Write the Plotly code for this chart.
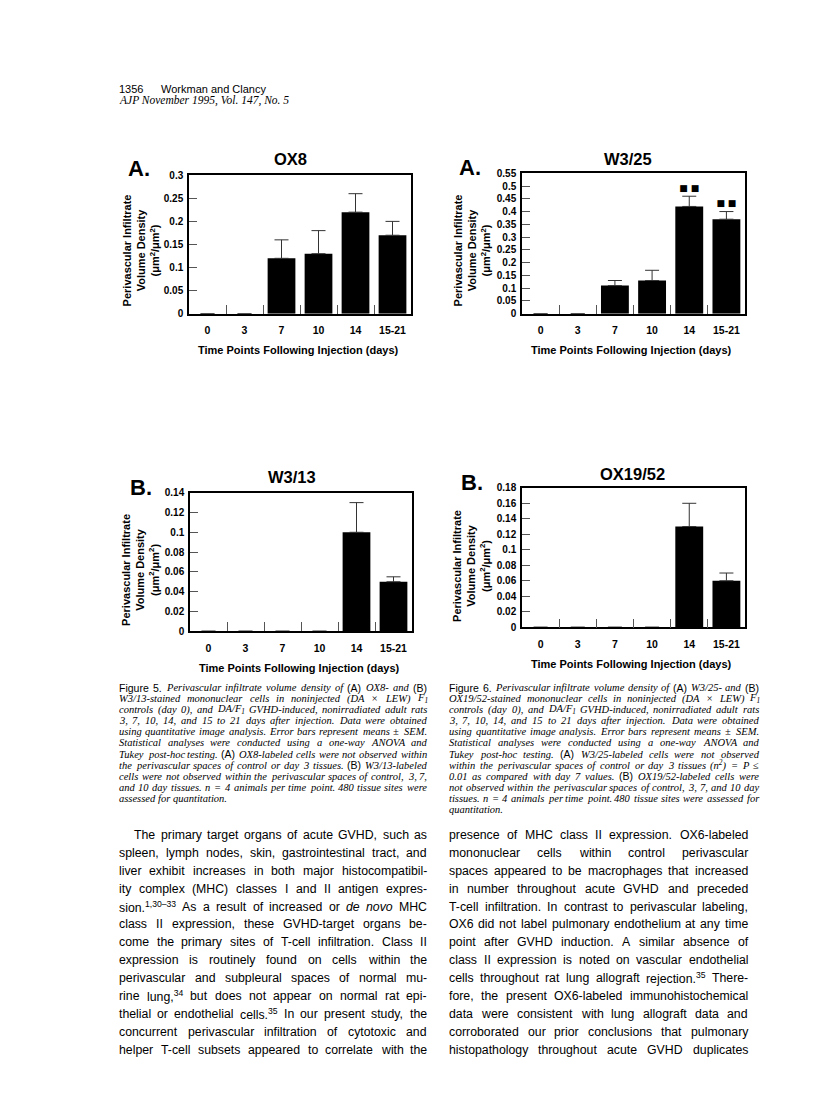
import re
import plotly.graph_objects as go

# the page body keeps an 8px margin, so the figure is 16px smaller than the window
PAGE_W, PAGE_H, PAD = 816, 1119, 8
W, H = PAGE_W - 2 * PAD, PAGE_H - 2 * PAD

# data
days = ["0", "3", "7", "10", "14", "15-21"]

ox8_mean = [0, 0, 0.12, 0.13, 0.22, 0.17]
ox8_sem = [0, 0, 0.04, 0.05, 0.04, 0.03]

w325_mean = [0, 0, 0.11, 0.13, 0.42, 0.37]
w325_sem = [0, 0, 0.02, 0.04, 0.04, 0.03]
w325_sig = [False, False, False, False, True, True]

w313_mean = [0, 0, 0, 0, 0.10, 0.05]
w313_sem = [0, 0, 0, 0, 0.03, 0.005]

ox1952_mean = [0, 0, 0, 0, 0.13, 0.06]
ox1952_sem = [0, 0, 0, 0, 0.03, 0.01]

y_title = "Perivascular Infiltrate<br>Volume Density<br>(\u03bcm<sup>2</sup>/\u03bcm<sup>2</sup>)"
x_title = "Time Points Following Injection (days)"


def fx(x):
    return (x - PAD) / W


def fy(y):
    return 1 - (y - PAD) / H


# mean, sem, name, letter, ymax, dtick, box (left, right, top, bottom) in page px,
# title pos, letter pos, y-title pos
panels = [
    (ox8_mean, ox8_sem, "OX8", "A.", 0.3, 0.05, (189, 411, 171, 311), (290, 155), (139, 164), (141, 247)),
    (w325_mean, w325_sem, "W3/25", "A.", 0.55, 0.05, (522, 745, 169, 311), (628, 155), (470, 163), (472, 247)),
    (w313_mean, w313_sem, "W3/13", "B.", 0.14, 0.02, (190, 412, 492, 632), (292, 476), (141, 487), (141, 570)),
    (ox1952_mean, ox1952_sem, "OX19/52", "B.", 0.18, 0.02, (522, 745, 487, 628), (632, 473), (472, 482), (472, 566)),
]

bold = dict(family="Liberation Sans", color="black", weight="bold")

fig = go.Figure()
annotations = []
layout = {}

for i, (mean, sem, name, letter, ymax, dtick, box, tpos, lpos, ypos) in enumerate(panels, start=1):
    left, right, top, bottom = box
    fig.add_trace(go.Bar(
        x=days, y=mean,
        marker=dict(color="black", line=dict(width=0)),
        error_y=dict(type="data", array=[s if m > 0 else None for m, s in zip(mean, sem)],
                     arrayminus=[0] * len(sem), symmetric=False,
                     color="#333333", thickness=1, width=7),
        xaxis=f"x{i}", yaxis=f"y{i}", showlegend=False,
    ))
    layout[f"xaxis{i}"] = dict(
        domain=[fx(left), fx(right)], anchor=f"y{i}", type="category",
        showline=True, mirror=True, linecolor="black", linewidth=1.5,
        ticks="inside", tickson="boundaries", ticklen=9, tickwidth=1, tickcolor="#555555",
        tickfont=dict(size=10.5, **bold), ticklabelstandoff=6, showgrid=False,
    )
    layout[f"yaxis{i}"] = dict(
        domain=[fy(bottom), fy(top)], anchor=f"x{i}", range=[0, ymax], dtick=dtick,
        showline=True, mirror=True, linecolor="black", linewidth=1.5,
        ticks="inside", ticklen=8, tickwidth=1, tickcolor="#555555",
        tickfont=dict(size=10, **bold), ticklabelstandoff=2, showgrid=False, zeroline=False,
    )
    annotations += [
        dict(text=name, x=fx(tpos[0]), y=fy(tpos[1]), font=dict(size=16.5, **bold)),
        dict(text=letter, x=fx(lpos[0]), y=fy(lpos[1]), font=dict(size=22, **bold)),
        dict(text=y_title, x=fx(ypos[0]), y=fy(ypos[1]), textangle=-90, font=dict(size=11, **bold)),
        dict(text=x_title, x=fx((left + right) / 2 - 2), y=fy(bottom + 37), font=dict(size=11, **bold)),
    ]

# significance markers over W3/25 (p <= 0.01 vs day 7)
sig_x = [d for d, f in zip(days, w325_sig) if f]
sig_y = [m + s + 0.03 for m, s, f in zip(w325_mean, w325_sem, w325_sig) if f]
fig.add_trace(go.Scatter(
    x=sig_x, y=sig_y, mode="text", text=["\u25a0 \u25a0"] * len(sig_x),
    textfont=dict(family="DejaVu Sans", size=9, color="black"),
    xaxis="x2", yaxis="y2", showlegend=False,
))

# page text
header = [
    ("1356", 117, 84, "Liberation Sans", "normal", 11),
    ("Workman and Clancy", 159, 84, "Liberation Sans", "normal", 11),
    ("AJP November 1995, Vol. 147, No. 5", 117, 95, "Liberation Serif", "italic", 11.5),
]
for txt, x, y, fam, style, size in header:
    annotations.append(dict(text=txt, x=fx(x), y=fy(y), xanchor="left",
                            font=dict(family=fam, size=size, color="black", style=style)))

cap5 = [
    "Figure 5. Perivascular infiltrate volume density of (A) OX8- and (B)",
    "W3/13-stained mononuclear cells in noninjected (DA \u00d7 LEW) F<sub>1</sub>",
    "controls (day 0), and DA/F<sub>1</sub> GVHD-induced, nonirradiated adult rats",
    "3, 7, 10, 14, and 15 to 21 days after injection. Data were obtained",
    "using quantitative image analysis. Error bars represent means \u00b1 SEM.",
    "Statistical analyses were conducted using a one-way ANOVA and",
    "Tukey post-hoc testing. (A) OX8-labeled cells were not observed within",
    "the perivascular spaces of control or day 3 tissues. (B) W3/13-labeled",
    "cells were not observed within the perivascular spaces of control, 3, 7,",
    "and 10 day tissues. n = 4 animals per time point. 480 tissue sites were",
    "assessed for quantitation.",
]
cap6 = [
    "Figure 6. Perivascular infiltrate volume density of (A) W3/25- and (B)",
    "OX19/52-stained mononuclear cells in noninjected (DA \u00d7 LEW) F<sub>1</sub>",
    "controls (day 0), and DA/F<sub>1</sub> GVHD-induced, nonirradiated adult rats",
    "3, 7, 10, 14, and 15 to 21 days after injection. Data were obtained",
    "using quantitative image analysis. Error bars represent means \u00b1 SEM.",
    "Statistical analyses were conducted using a one-way ANOVA and",
    "Tukey post-hoc testing. (A) W3/25-labeled cells were not observed",
    "within the perivascular spaces of control or day 3 tissues (n<sup>2</sup>) = P \u2264",
    "0.01 as compared with day 7 values. (B) OX19/52-labeled cells were",
    "not observed within the perivascular spaces of control, 3, 7, and 10 day",
    "tissues. n = 4 animals per time point. 480 tissue sites were assessed for",
    "quantitation.",
]

body_left = [
    "The primary target organs of acute GVHD, such as",
    "spleen, lymph nodes, skin, gastrointestinal tract, and",
    "liver exhibit increases in both major histocompatibil-",
    "ity complex (MHC) classes I and II antigen expres-",
    "sion.<sup>1,30\u201333</sup> As a result of increased or <i>de</i> <i>novo</i> MHC",
    "class II expression, these GVHD-target organs be-",
    "come the primary sites of T-cell infiltration. Class II",
    "expression is routinely found on cells within the",
    "perivascular and subpleural spaces of normal mu-",
    "rine lung,<sup>34</sup> but does not appear on normal rat epi-",
    "thelial or endothelial cells.<sup>35</sup> In our present study, the",
    "concurrent perivascular infiltration of cytotoxic and",
    "helper T-cell subsets appeared to correlate with the",
]
body_right = [
    "presence of MHC class II expression. OX6-labeled",
    "mononuclear cells within control perivascular",
    "spaces appeared to be macrophages that increased",
    "in number throughout acute GVHD and preceded",
    "T-cell infiltration. In contrast to perivascular labeling,",
    "OX6 did not label pulmonary endothelium at any time",
    "point after GVHD induction. A similar absence of",
    "class II expression is noted on vascular endothelial",
    "cells throughout rat lung allograft rejection.<sup>35</sup> There-",
    "fore, the present OX6-labeled immunohistochemical",
    "data were consistent with lung allograft data and",
    "corroborated our prior conclusions that pulmonary",
    "histopathology throughout acute GVHD duplicates",
]


def width_table(groups):
    table = {}
    for chars, w in groups:
        for c in chars:
            table[c] = w
    return table


# advance widths (1/1000 em): Liberation Sans (= Arial) and Liberation Serif Italic (= Times Italic)
SANS_ADV = width_table([
    ("ijl", 222), (" !,./:;I[]ft", 278), ("r-()", 333), ("Jcksvxyz", 500),
    ("abdeghnopqu0123456789L\u2013", 556), ("FTZ", 611), ("ABEKPSVXY", 667),
    ("CDHNRUw", 722), ("GOQ", 778), ("mM", 833), ("W", 944)])
SERIF_I_ADV = width_table([
    (" ,.", 250), ("fijlt/", 278), ("I-():;", 333), ("rsz", 389), ("ceJkvxy", 444),
    ("abdghnopqu0123456789S", 500), ("\u2264", 549), ("LTYZ", 556),
    ("ABEFPRVX", 611), ("CKNw", 667), ("=\u00d7\u00b1", 675), ("DGHOQUm", 722), ("MW", 833)])

SANS_TOKENS = {"Figure", "5.", "6.", "(A)", "(B)"}


def text_width(s, size, table):
    total, scale = 0, 1.0
    for part in re.split(r"(</?su[pb]>|</?i>)", s):
        if part in ("<sup>", "<sub>"):
            scale = 0.7
        elif part in ("</sup>", "</sub>"):
            scale = 1.0
        elif part.startswith("<"):
            continue
        else:
            total += sum(table.get(c, 500) for c in part) * scale
    return total * size / 1000


def set_line(line, start, end, y, size, kind, justify):
    words = line.split(" ")
    specs = []
    for w in words:
        if kind == "body":
            specs.append((w, "Liberation Sans", "normal", SANS_ADV))
        elif w in SANS_TOKENS:
            specs.append((w, "Liberation Sans", "normal", SANS_ADV))
        else:
            specs.append((w, "Liberation Serif", "italic", SERIF_I_ADV))
    widths = [text_width(w, size, t) for w, _, _, t in specs]
    space = (0.278 if kind == "body" else 0.25) * size
    gap = space
    if justify and len(words) > 1:
        gap = max((end - start - sum(widths)) / (len(words) - 1), 0.6 * space)
    x = start
    for (w, fam, style, _), wd in zip(specs, widths):
        annotations.append(dict(text=w, x=fx(x), y=fy(y), xanchor="left",
                                font=dict(family=fam, size=size, color="black", style=style)))
        x += wd + gap


for lines, x0, x1 in [(cap5, 117, 425), (cap6, 447, 757)]:
    for k, line in enumerate(lines):
        set_line(line, x0, x1, 689 + 11.2 * k, 10.5, "caption", k < len(lines) - 1)

for lines, x0, x1 in [(body_left, 117, 425), (body_right, 447, 746)]:
    for k, line in enumerate(lines):
        start = x0 + (15 if (k == 0 and x0 == 117) else 0)
        set_line(line, start, x1, 838 + 18.1 * k, 12.3, "body", True)

for a in annotations:
    a.update(xref="paper", yref="paper", showarrow=False)
    a.setdefault("xanchor", "center")
    a.setdefault("yanchor", "middle")

fig.update_layout(
    width=W, height=H, margin=dict(l=0, r=0, t=0, b=0),
    paper_bgcolor="white", plot_bgcolor="white",
    bargap=0.25, annotations=annotations, **layout,
)

fig.write_html("out.html")
